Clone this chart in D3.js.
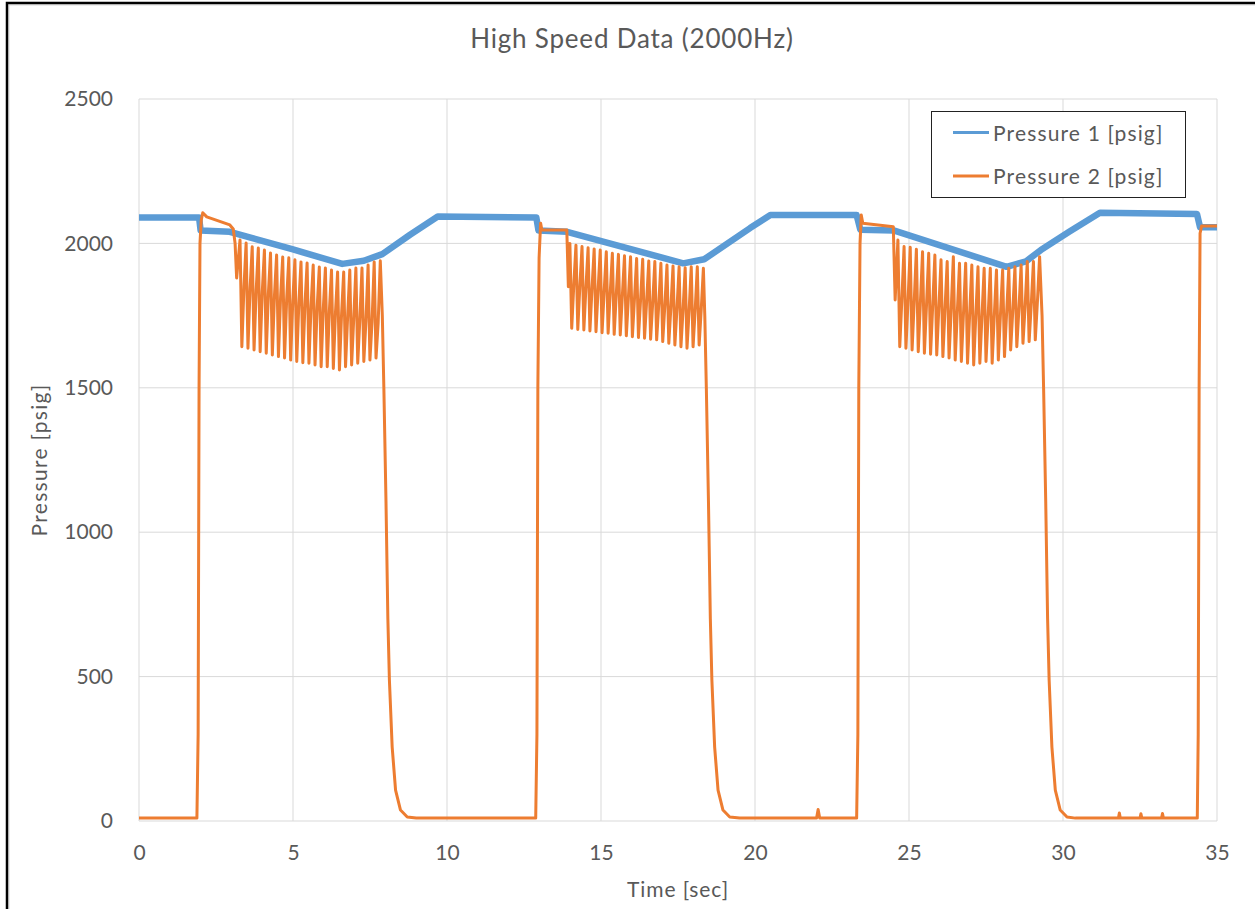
<!DOCTYPE html>
<html>
<head>
<meta charset="utf-8">
<script src="https://cdn.jsdelivr.net/npm/d3@7"></script>
<style>
  body { margin: 0; background: #fff; }
  text { font-family: Lato, "Open Sans", sans-serif; fill: #595959; }
</style>
</head>
<body>
<div id="chart"></div>
<script>
const width = 1255;
const height = 909;
const margin = {top: 99, right: 38, bottom: 88, left: 139};

const timeTicks = [0, 5, 10, 15, 20, 25, 30, 35];
const pressureTicks = [0, 500, 1000, 1500, 2000, 2500];
const seriesNames = ["Pressure 1 [psig]", "Pressure 2 [psig]"];
const seriesColours = ["#5B9BD5", "#ED7D31"];

// Pressure 1 - turning points
const p1Time  = [0, 1.95, 2.0, 2.95, 5.0, 6.6, 7.3, 7.9, 8.8, 9.7, 12.9, 12.97, 13.9, 17.67, 18.35, 19.84, 20.5, 23.3, 23.42, 24.5, 28.17, 28.8, 29.28, 30.2, 31.2, 34.35, 34.45, 35];
const p1Value = [2090, 2090, 2045, 2040, 1979, 1929, 1940, 1963, 2030, 2093, 2090, 2045, 2040, 1931, 1945, 2053, 2098, 2098, 2047, 2045, 1919, 1938, 1977, 2040, 2106, 2102, 2056, 2056];

// Pressure 2 - vertices between the oscillation bursts
const p2Stretch0 = [[0,10],[1.88,10],[1.92,300],[1.95,1500],[1.98,2000],[2.02,2080],[2.07,2106],[2.2,2092],[2.95,2064],[3.06,2050],[3.12,2000],[3.17,1880]];
const p2Stretch1 = [[7.9,1750],[7.95,1500],[8.02,1100],[8.08,700],[8.13,488],[8.22,256],[8.33,107],[8.49,38],[8.71,14],[9.0,10],[12.88,10],[12.92,300],[12.95,1500],[12.99,1950],[13.04,2070],[13.08,2046],[13.89,2046],[13.94,1850]];
const p2Stretch2 = [[18.37,1750],[18.42,1500],[18.49,1100],[18.55,700],[18.6,488],[18.69,256],[18.8,107],[18.96,38],[19.18,14],[19.5,10],[22.0,10],[22.05,40],[22.1,10],[23.3,10],[23.34,300],[23.37,1500],[23.41,2000],[23.45,2098],[23.5,2070],[24.49,2058],[24.55,1804]];
const p2Stretch3 = [[29.32,1750],[29.37,1500],[29.44,1100],[29.5,700],[29.55,488],[29.64,256],[29.75,107],[29.91,38],[30.13,14],[30.4,10],[31.8,10],[31.83,28],[31.86,10],[32.5,10],[32.53,25],[32.56,10],[33.2,10],[33.23,26],[33.26,10],[34.36,10],[34.39,300],[34.42,1500],[34.45,2035],[34.5,2060],[35,2060]];

// Pressure 2 - oscillation bursts (one entry per cycle)
const burstStart  = [3.28, 13.99, 24.64];
const burstPeriod = [0.198, 0.197, 0.2];
const burstPeaks = [
  [2012, 2001, 1988, 1984, 1977, 1967, 1960, 1953, 1950, 1943, 1936, 1932, 1925, 1918, 1915, 1908, 1901, 1901, 1908, 1915, 1915, 1925, 1936, 1940],
  [2000, 1994, 1989, 1985, 1981, 1977, 1971, 1966, 1962, 1957, 1954, 1948, 1945, 1939, 1937, 1931, 1925, 1922, 1919, 1916, 1919, 1919, 1914],
  [2012, 1989, 1987, 1980, 1971, 1966, 1960, 1943, 1937, 1954, 1931, 1931, 1925, 1919, 1914, 1914, 1908, 1908, 1914, 1919, 1925, 1937, 1937, 1954]
];
const burstMids = [
  [1850, 1845, 1838, 1832, 1826, 1820, 1813, 1807, 1800, 1795, 1789, 1783, 1778, 1772, 1766, 1760, 1754, 1748, 1742, 1737, 1732, 1728, 1724],
  [1860, 1855, 1850, 1845, 1840, 1835, 1830, 1825, 1820, 1815, 1810, 1805, 1800, 1795, 1790, 1785, 1780, 1775, 1770, 1768, 1770, 1772],
  [1810, 1805, 1800, 1795, 1790, 1785, 1780, 1775, 1770, 1765, 1760, 1755, 1752, 1750, 1750, 1752, 1755, 1760, 1768, 1775, 1782, 1790, 1800]
];
const burstTroughs = [
  [1642, 1637, 1631, 1625, 1620, 1614, 1608, 1603, 1596, 1591, 1587, 1585, 1579, 1573, 1573, 1567, 1562, 1573, 1579, 1585, 1591, 1596, 1603],
  [1706, 1702, 1700, 1697, 1694, 1691, 1689, 1685, 1683, 1680, 1677, 1674, 1672, 1668, 1666, 1660, 1654, 1648, 1642, 1637, 1642, 1648],
  [1642, 1637, 1631, 1625, 1620, 1616, 1614, 1608, 1603, 1596, 1591, 1585, 1579, 1585, 1591, 1585, 1596, 1608, 1631, 1642, 1654, 1660, 1666]
];

function burstPoints(b){
  let pts = [];
  let s = burstStart[b], p = burstPeriod[b];
  burstPeaks[b].forEach(function(peak, i){
    let t0 = s + i * p;
    pts.push([t0, peak]);
    if(i < burstTroughs[b].length){
      pts.push([t0 + p * 0.3, burstTroughs[b][i]]);
      pts.push([t0 + p * 0.65, burstMids[b][i]]);
    }
  });
  return pts;
}

const p1Data = p1Time.map((t, i) => [t, p1Value[i]]);
const p2Data = [].concat(p2Stretch0, burstPoints(0), p2Stretch1, burstPoints(1), p2Stretch2, burstPoints(2), p2Stretch3);

let svg = d3.select("#chart").append("svg").attr("width", width).attr("height", height);

// chart area frame
svg.append("rect").attr("x", 9).attr("y", 5).attr("width", width).attr("height", height)
  .attr("fill", "none").attr("stroke", "#d9d9d9").attr("stroke-width", 1);
svg.append("path").attr("d", `M7,${height} V3 H${width}`)
  .attr("fill", "none").attr("stroke", "#000").attr("stroke-width", 2.5);

const x = d3.scaleLinear().domain([0, 35]).range([margin.left, width - margin.right]);
const y = d3.scaleLinear().domain([0, 2500]).range([height - margin.bottom, margin.top]);

// gridlines
svg.append("g").selectAll("line").data(pressureTicks).enter().append("line")
  .attr("x1", x(0)).attr("x2", x(35))
  .attr("y1", d => y(d)).attr("y2", d => y(d))
  .attr("stroke", "#d9d9d9").attr("stroke-width", 1);
svg.append("g").selectAll("line").data(timeTicks).enter().append("line")
  .attr("x1", d => x(d)).attr("x2", d => x(d))
  .attr("y1", y(0)).attr("y2", y(2500))
  .attr("stroke", "#d9d9d9").attr("stroke-width", 1);

// axes (labels only)
const yAxis = svg.append("g").attr("transform", `translate(${x(0)},0)`)
  .call(d3.axisLeft(y).tickValues(pressureTicks).tickFormat(d3.format("d")).tickSize(0).tickPadding(26));
const xAxis = svg.append("g").attr("transform", `translate(0,${y(0)})`)
  .call(d3.axisBottom(x).tickValues(timeTicks).tickFormat(d3.format("d")).tickSize(0).tickPadding(26));
[yAxis, xAxis].forEach(function(ax){
  ax.select(".domain").remove();
  ax.selectAll("text").style("font-family", "Lato").style("font-size", "21px").attr("fill", "#595959");
});
xAxis.selectAll("text").attr("dy", "0.6em");

const line = d3.line().x(d => x(d[0])).y(d => y(d[1]));

svg.append("path").datum(p1Data).attr("d", line)
  .attr("fill", "none").attr("stroke", seriesColours[0]).attr("stroke-width", 6.5).attr("stroke-linejoin", "round");
svg.append("path").datum(p2Data).attr("d", line)
  .attr("fill", "none").attr("stroke", seriesColours[1]).attr("stroke-width", 3).attr("stroke-linejoin", "round");

// titles
svg.append("text").attr("x", 632).attr("y", 48).attr("text-anchor", "middle")
  .style("font-size", "26px").style("letter-spacing", "0.8px").text("High Speed Data (2000Hz)");
svg.append("text").attr("x", x(17.5)).attr("y", 897).attr("text-anchor", "middle")
  .style("font-size", "21px").style("letter-spacing", "0.9px").text("Time [sec]");
svg.append("text").attr("transform", `translate(47,${y(1250)}) rotate(-90)`).attr("text-anchor", "middle")
  .style("font-size", "21px").style("letter-spacing", "1.3px").text("Pressure [psig]");

// legend
const legend = svg.append("g");
legend.append("rect").attr("x", 931.5).attr("y", 111.5).attr("width", 254).attr("height", 86)
  .attr("fill", "#fff").attr("stroke", "#222").attr("stroke-width", 1);
seriesNames.forEach(function(name, i){
  let ly = 132.5 + i * 43.5;
  legend.append("line").attr("x1", 953).attr("x2", 989).attr("y1", ly).attr("y2", ly)
    .attr("stroke", seriesColours[i]).attr("stroke-width", 3);
  legend.append("text").attr("x", 993).attr("y", ly + 8).style("font-size", "21px")
    .style("letter-spacing", "1.15px").text(name);
});
</script>
</body>
</html>
